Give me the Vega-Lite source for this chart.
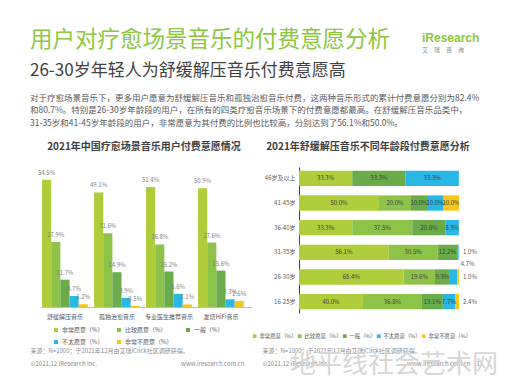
{
  "$schema": "https://vega.github.io/schema/vega-lite/v6.json",
  "background": "white",
  "padding": {"left": 30, "top": 29, "right": 8, "bottom": 0},
  "config": {
    "font": "Noto Sans CJK SC",
    "view": {"stroke": null},
    "concat": {"spacing": 0},
    "title": {"font": "Noto Sans CJK SC", "subtitleFont": "Noto Sans CJK SC"}
  },
  "title": {"text": "iResearch", "subtitle": "艾　瑞　咨　询", "anchor": "start", "orient": "top", "offset": -25, "dx": 392, "fontSize": 12, "fontWeight": "bold", "color": "#8dc63f", "font": "Liberation Sans", "subtitleFontSize": 6, "subtitleColor": "#8c8c8c", "subtitlePadding": 2},
  "vconcat": [
    {
      "title": {"text": "用户对疗愈场景音乐的付费意愿分析", "subtitle": "26-30岁年轻人为舒缓解压音乐付费意愿高", "anchor": "start", "offset": 15, "fontSize": 22.5, "fontWeight": "normal", "color": "#8dc63f", "subtitleFontSize": 17, "subtitleColor": "#404040", "subtitlePadding": 11},
      "vconcat": [
        {
          "title": {"text": ["对于疗愈场景音乐下，更多用户愿意为舒缓解压音乐和孤独治愈音乐付费，这两种音乐形式的累计付费意愿分别为82.4%", "和80.7%。特别是26-30岁年龄段的用户，在所有的四类疗愈音乐场景下的付费意愿都最高。在舒缓解压音乐品类中，", "31-35岁和41-45岁年龄段的用户，非常愿意为其付费的比例也比较高，分别达到了56.1%和50.0%。"], "anchor": "start", "offset": 15, "fontSize": 8.5, "fontWeight": "normal", "color": "#595959", "lineHeight": 12.5},
          "vconcat": [
            {
              "title": {"text": "地平线社会艺术网", "orient": "bottom", "anchor": "start", "dx": 260, "offset": -14, "fontSize": 26, "fontWeight": "normal", "color": "#d6d6d6"},
              "resolve": {"legend": {"color": "independent"}, "scale": {"color": "independent"}},
              "hconcat": [
                {
                  "width": 212,
                  "height": 140,
                  "title": {"text": "2021年中国疗愈场景音乐用户付费意愿情况", "fontSize": 10, "fontWeight": "bold", "color": "#404040", "offset": 15, "anchor": "middle", "frame": "group", "dx": -2},
                  "data": {"values": [
                    {"cat": "舒缓解压音乐", "level": "非常愿意（%）", "v": 54.5},
                    {"cat": "舒缓解压音乐", "level": "比较愿意（%）", "v": 27.9},
                    {"cat": "舒缓解压音乐", "level": "一般（%）", "v": 11.7},
                    {"cat": "舒缓解压音乐", "level": "不太愿意（%）", "v": 4.7},
                    {"cat": "舒缓解压音乐", "level": "非常不愿意（%）", "v": 1.2},
                    {"cat": "孤独治愈音乐", "level": "非常愿意（%）", "v": 49.1},
                    {"cat": "孤独治愈音乐", "level": "比较愿意（%）", "v": 31.6},
                    {"cat": "孤独治愈音乐", "level": "一般（%）", "v": 14.9},
                    {"cat": "孤独治愈音乐", "level": "不太愿意（%）", "v": 3.9},
                    {"cat": "孤独治愈音乐", "level": "非常不愿意（%）", "v": 0.5},
                    {"cat": "专业医生推荐音乐", "level": "非常愿意（%）", "v": 51.4},
                    {"cat": "专业医生推荐音乐", "level": "比较愿意（%）", "v": 26.8},
                    {"cat": "专业医生推荐音乐", "level": "一般（%）", "v": 15.2},
                    {"cat": "专业医生推荐音乐", "level": "不太愿意（%）", "v": 5.6},
                    {"cat": "专业医生推荐音乐", "level": "非常不愿意（%）", "v": 1.1},
                    {"cat": "发烧HiFi音乐", "level": "非常愿意（%）", "v": 50.9},
                    {"cat": "发烧HiFi音乐", "level": "比较愿意（%）", "v": 27.6},
                    {"cat": "发烧HiFi音乐", "level": "一般（%）", "v": 15.6},
                    {"cat": "发烧HiFi音乐", "level": "不太愿意（%）", "v": 3.3},
                    {"cat": "发烧HiFi音乐", "level": "非常不愿意（%）", "v": 2.6}
                  ]},
                  "transform": [{"calculate": "format(datum.v, '.1f') + '%'", "as": "lab"}],
                  "encoding": {
                    "x": {"field": "cat", "type": "nominal", "sort": ["舒缓解压音乐", "孤独治愈音乐", "专业医生推荐音乐", "发烧HiFi音乐"], "scale": {"paddingInner": 0.12, "paddingOuter": 0.0985, "align": 0.2},
                      "axis": {"title": ["来源：N=1000；于2021年12月由艾瑞iClick社区调研获得。", "©2021.12 iResearch Inc.　　　　　　　　　　　　　　www.iresearch.com.cn"], "titleAnchor": "start", "titleX": -10, "titleY": 40, "titleBaseline": "top", "titleAlign": "left", "titleFontSize": 6, "titleFontWeight": "normal", "titleColor": "#8c8c8c", "titleLineHeight": 13, "labelAngle": 0, "labelFontSize": 6, "labelColor": "#595959", "labelPadding": 6, "ticks": false, "domainColor": "#bfbfbf"}},
                    "xOffset": {"field": "level", "type": "nominal", "sort": ["非常愿意（%）", "比较愿意（%）", "一般（%）", "不太愿意（%）", "非常不愿意（%）"], "scale": {"paddingInner": 0, "paddingOuter": 0}},
                    "y": {"field": "v", "type": "quantitative", "scale": {"domain": [0, 60]}, "axis": null}
                  },
                  "layer": [
                    {"mark": {"type": "bar"},
                     "encoding": {"color": {"field": "level", "type": "nominal", "sort": ["非常愿意（%）", "比较愿意（%）", "一般（%）", "不太愿意（%）", "非常不愿意（%）"],
                       "scale": {"domain": ["非常愿意（%）", "比较愿意（%）", "一般（%）", "不太愿意（%）", "非常不愿意（%）"], "range": ["#afcd3b", "#8dc349", "#6aab4a", "#29b8e6", "#f8c51c"]},
                       "legend": {"title": null, "orient": "none", "direction": "horizontal", "legendX": 13, "legendY": 160, "columns": 3, "symbolType": "square", "symbolSize": 16, "symbolStrokeWidth": 0, "labelFontSize": 6, "labelColor": "#595959", "columnPadding": 12, "rowPadding": 6, "labelOffset": 3}}}},
                    {"mark": {"type": "text", "dy": -7, "fontSize": 6, "color": "#7f7f7f"},
                     "encoding": {"text": {"field": "lab"}}}
                  ]
                },
                {
                  "width": 160,
                  "height": 146,
                  "title": {"text": "2021年舒缓解压音乐不同年龄段付费意愿分析", "fontSize": 10, "fontWeight": "bold", "color": "#404040", "offset": 15, "anchor": "middle", "frame": "group", "dx": -11},
                  "data": {"values": [
                    {"age": "46岁及以上", "level": "非常愿意（%）", "v": 33.3},
                    {"age": "46岁及以上", "level": "一般（%）", "v": 33.3},
                    {"age": "46岁及以上", "level": "不太愿意（%）", "v": 33.3},
                    {"age": "41-45岁", "level": "非常愿意（%）", "v": 50.0},
                    {"age": "41-45岁", "level": "比较愿意（%）", "v": 20.0},
                    {"age": "41-45岁", "level": "一般（%）", "v": 10.0},
                    {"age": "41-45岁", "level": "不太愿意（%）", "v": 10.0},
                    {"age": "41-45岁", "level": "非常不愿意（%）", "v": 10.0},
                    {"age": "36-40岁", "level": "非常愿意（%）", "v": 33.3},
                    {"age": "36-40岁", "level": "比较愿意（%）", "v": 37.5},
                    {"age": "36-40岁", "level": "一般（%）", "v": 20.8},
                    {"age": "36-40岁", "level": "不太愿意（%）", "v": 8.3},
                    {"age": "31-35岁", "level": "非常愿意（%）", "v": 56.1},
                    {"age": "31-35岁", "level": "比较愿意（%）", "v": 30.5},
                    {"age": "31-35岁", "level": "一般（%）", "v": 12.2},
                    {"age": "31-35岁", "level": "不太愿意（%）", "v": 1.0},
                    {"age": "26-30岁", "level": "非常愿意（%）", "v": 65.4},
                    {"age": "26-30岁", "level": "比较愿意（%）", "v": 19.6},
                    {"age": "26-30岁", "level": "一般（%）", "v": 9.3},
                    {"age": "26-30岁", "level": "不太愿意（%）", "v": 4.7},
                    {"age": "26-30岁", "level": "非常不愿意（%）", "v": 1.0},
                    {"age": "16-25岁", "level": "非常愿意（%）", "v": 40.0},
                    {"age": "16-25岁", "level": "比较愿意（%）", "v": 36.8},
                    {"age": "16-25岁", "level": "一般（%）", "v": 13.1},
                    {"age": "16-25岁", "level": "不太愿意（%）", "v": 7.7},
                    {"age": "16-25岁", "level": "非常不愿意（%）", "v": 2.4}
                  ]},
                  "transform": [
                    {"calculate": "indexof(['非常愿意（%）', '比较愿意（%）', '一般（%）', '不太愿意（%）', '非常不愿意（%）'], datum.level)", "as": "o"},
                    {"stack": "v", "groupby": ["age"], "sort": [{"field": "o", "order": "ascending"}], "as": ["v0", "v1"]},
                    {"calculate": "(datum.v0 + datum.v1) / 2", "as": "mid"},
                    {"calculate": "format(datum.v, '.1f') + '%'", "as": "lab"}
                  ],
                  "encoding": {
                    "y": {"field": "age", "type": "nominal", "sort": ["46岁及以上", "41-45岁", "36-40岁", "31-35岁", "26-30岁", "16-25岁"], "scale": {"paddingInner": 0.38, "paddingOuter": 0.15},
                      "axis": {"title": null, "labelFontSize": 6, "labelColor": "#595959", "ticks": false, "labelPadding": 4, "domainColor": "#404040"}}
                  },
                  "layer": [
                    {"mark": {"type": "bar"},
                     "encoding": {
                       "x": {"field": "v0", "type": "quantitative", "scale": {"domain": [0, 100]},
                         "axis": {"labels": false, "ticks": false, "domain": false, "grid": false, "title": ["来源：N=1000；于2021年12月由艾瑞iClick社区调研获得。", "©2021.12 iResearch Inc.　　　　　　　　　　　　　www.iresearch.com.cn　17"], "titleAnchor": "start", "titleX": -37, "titleY": 34, "titleBaseline": "top", "titleAlign": "left", "titleFontSize": 6, "titleFontWeight": "normal", "titleColor": "#8c8c8c", "titleLineHeight": 13}},
                       "x2": {"field": "v1"},
                       "color": {"field": "level", "type": "nominal", "sort": ["非常愿意（%）", "比较愿意（%）", "一般（%）", "不太愿意（%）", "非常不愿意（%）"],
                         "scale": {"domain": ["非常愿意（%）", "比较愿意（%）", "一般（%）", "不太愿意（%）", "非常不愿意（%）"], "range": ["#afcd3b", "#8dc349", "#6aab4a", "#29b8e6", "#f8c51c"]},
                         "legend": {"title": null, "orient": "none", "legendX": -47, "legendY": 166, "direction": "horizontal", "columns": 5, "symbolType": "square", "symbolSize": 14, "symbolStrokeWidth": 0, "labelFontSize": 5.4, "labelColor": "#595959", "columnPadding": 0, "labelOffset": 2}}
                     }},
                    {"transform": [{"filter": "datum.v >= 5"}],
                     "mark": {"type": "text", "fontSize": 6, "color": "#404040"},
                     "encoding": {"x": {"field": "mid", "type": "quantitative"}, "text": {"field": "lab"}}},
                    {"transform": [{"filter": "datum.v < 3"}],
                     "mark": {"type": "text", "fontSize": 6, "color": "#595959", "dx": 11},
                     "encoding": {"x": {"datum": 100}, "text": {"field": "lab"}}},
                    {"transform": [{"filter": "datum.v >= 3 && datum.v < 5"}],
                     "mark": {"type": "text", "fontSize": 6, "color": "#595959", "dx": 14, "dy": -13},
                     "encoding": {"x": {"field": "mid", "type": "quantitative"}, "text": {"field": "lab"}}}
                  ]
                }
              ]
            }
          ]
        }
      ]
    }
  ]
}
